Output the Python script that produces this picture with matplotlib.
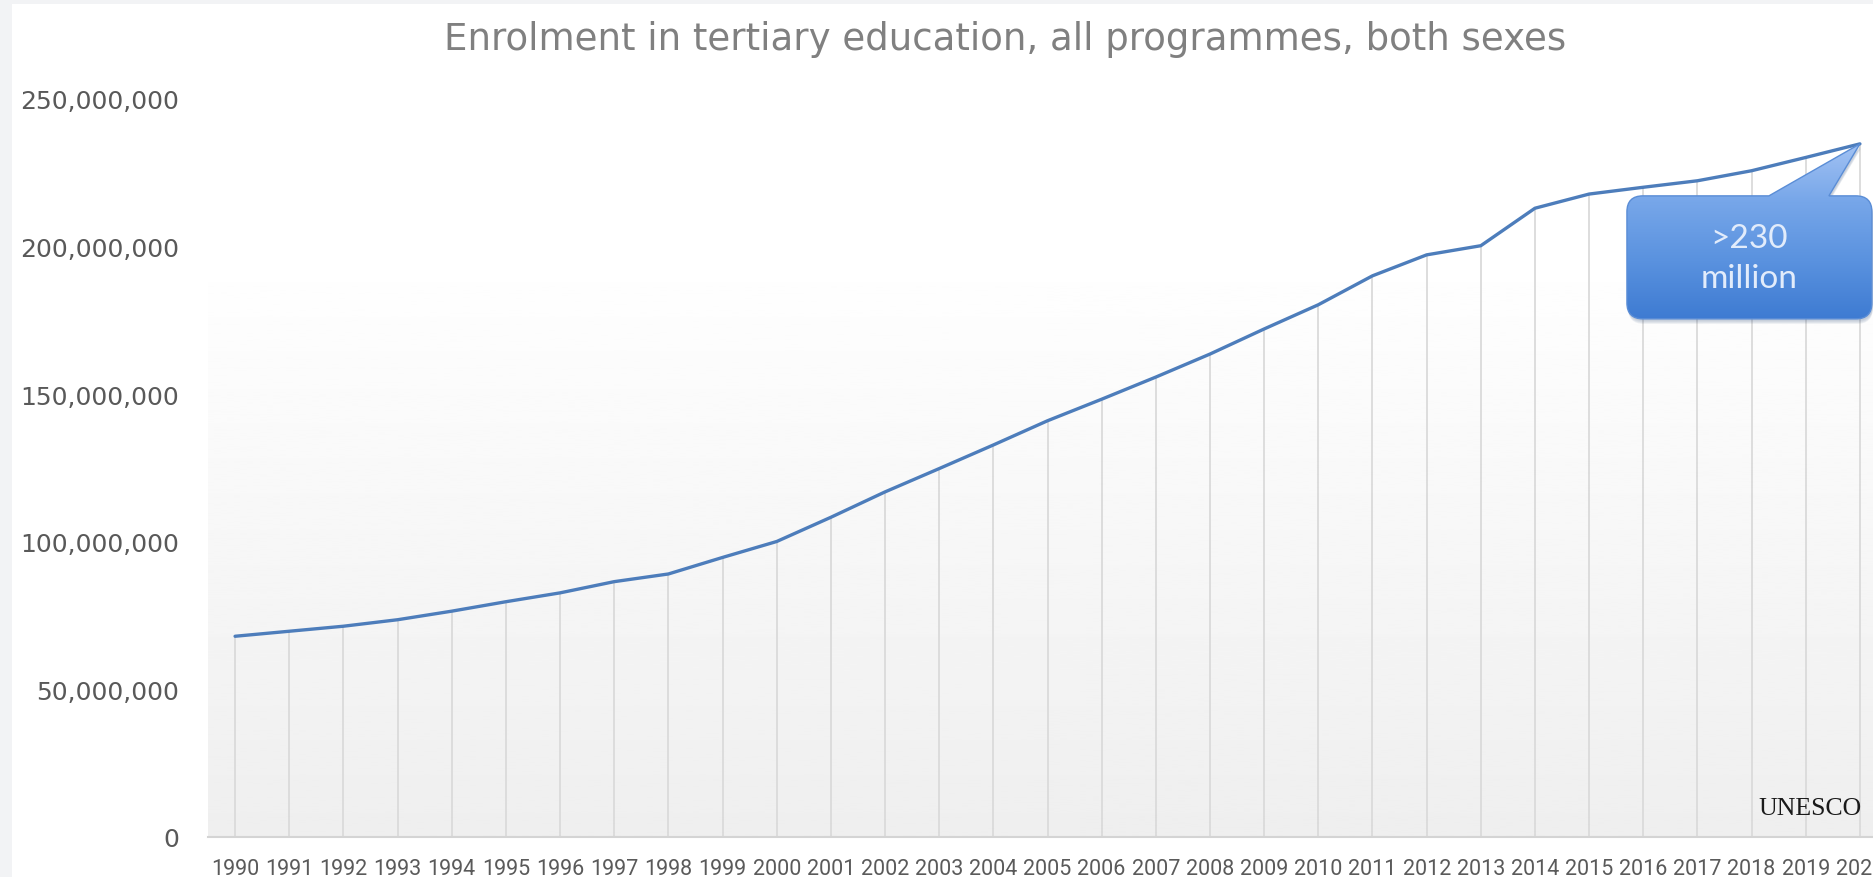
import matplotlib.pyplot as plt
import matplotlib.patches as mpatches
import matplotlib.transforms as mtransforms
from matplotlib.colors import LinearSegmentedColormap
from matplotlib.path import Path
import numpy as np

# Tertiary enrolment, all programmes, both sexes (millions of students)
years = list(range(1990, 2021))
enrolment_m = [68.0, 69.7, 71.4, 73.6, 76.5, 79.7, 82.7, 86.5, 89.1, 94.7,
               100.1, 108.3, 116.9, 124.8, 132.8, 141.0, 148.3, 155.8, 163.6, 172.1,
               180.3, 190.1, 197.2, 200.3, 213.0, 217.8, 220.1, 222.3, 225.7, 230.2, 234.8]
y_ticks = [0, 50_000_000, 100_000_000, 150_000_000, 200_000_000, 250_000_000]
year_labels = [str(y) for y in years]

title = "Enrolment in tertiary education, all programmes, both sexes"
callout_lines = [">230", "million"]
source = "UNESCO"

enrolment = [v * 1e6 for v in enrolment_m]

W, H = 1874, 878
fig = plt.figure(figsize=(W / 100, H / 100), dpi=100)
fig.patch.set_facecolor('white')

# plot area runs past the right edge, like the cropped original
ax = fig.add_axes([208 / W, 40 / H, (1887 - 208) / W, (838 - 100) / H])
ax.set_xlim(1989.5, 2020.5)
ax.set_ylim(0, 250e6)

# soft white-to-grey background
t = np.linspace(0, 1, 256)
shade = np.clip(0.935 + 0.065 * t / 0.8, 0, 1).reshape(-1, 1)
ax.imshow(shade, cmap='gray', vmin=0, vmax=1, origin='lower', aspect='auto',
          extent=[1989.5, 2020.5, 0, 250e6], zorder=0)

# drop lines and the series
ax.vlines(years, 0, enrolment, color='#dadada', lw=1.3, zorder=1)
ax.plot(years, enrolment, color='#4d7dbb', lw=2.4, zorder=3,
        solid_joinstyle='round', solid_capstyle='round')

for side in ['top', 'right', 'left']:
    ax.spines[side].set_visible(False)
ax.spines['bottom'].set_color('#d4d4d4')
ax.spines['bottom'].set_linewidth(1.5)

ax.set_xticks(years)
ax.set_xticklabels(year_labels, family='Roboto', fontsize=15.5, color='#5a5a5a')
ax.set_yticks(y_ticks)
ax.set_yticklabels([f'{v:,.0f}' for v in y_ticks], family='DejaVu Sans',
                   fontsize=18, color='#595959')
ax.tick_params(axis='x', length=0, pad=15)
ax.tick_params(axis='y', length=0, pad=21)

# callout pointing at the last point, geometry in pixels from the tip
to_tip = mtransforms.ScaledTranslation(years[-1], enrolment[-1], ax.transData)
left, right, top, bottom, r = -233, 12, -52, -175, 16
tail_l, tail_r = -91, -31
verts = [(tail_r, top), (0, 0), (tail_l, top),
         (left + r, top), (left, top), (left, top - r),
         (left, bottom + r), (left, bottom), (left + r, bottom),
         (right - r, bottom), (right, bottom), (right, bottom + r),
         (right, top - r), (right, top), (right - r, top),
         (tail_r, top), (tail_r, top)]
codes = [Path.MOVETO, Path.LINETO, Path.LINETO,
         Path.LINETO, Path.CURVE3, Path.CURVE3,
         Path.LINETO, Path.CURVE3, Path.CURVE3,
         Path.LINETO, Path.CURVE3, Path.CURVE3,
         Path.LINETO, Path.CURVE3, Path.CURVE3,
         Path.LINETO, Path.CLOSEPOLY]
bubble = Path(verts, codes)

# blurred shadow under the bubble
for k, a in enumerate([0.06, 0.06, 0.07, 0.08]):
    sh = mpatches.PathPatch(bubble, facecolor='#1f3f70', edgecolor='none', alpha=a,
                            transform=mtransforms.Affine2D().translate(1, -2 - k) + to_tip,
                            zorder=4)
    ax.add_patch(sh)

body = mpatches.PathPatch(bubble, facecolor='none', edgecolor='#5a8dd6', lw=1.0,
                          transform=to_tip, zorder=6)
ax.add_patch(body)

inv = ax.transData.inverted()
bx0, by0 = inv.transform(to_tip.transform((left, bottom)))
bx1, by1 = inv.transform(to_tip.transform((right, 0)))
blues = LinearSegmentedColormap.from_list(
    'bubble', ['#3e7bd2', '#5a92df', '#76a6e9', '#a2c2f3'])
fill = ax.imshow(np.linspace(0, 1, 256).reshape(-1, 1), cmap=blues, origin='lower',
                 aspect='auto', extent=[bx0, bx1, by0, by1], zorder=5)
fill.set_clip_path(body)

cx = (left + right) / 2
ax.text(cx, -94, callout_lines[0], transform=to_tip, ha='center', va='center',
        family='Lato', fontsize=24, color='#e2ecfb', zorder=7)
ax.text(cx, -134, callout_lines[1], transform=to_tip, ha='center', va='center',
        family='Lato', fontsize=24, color='#e2ecfb', zorder=7)

ax.set_xlim(1989.5, 2020.5)
ax.set_ylim(0, 250e6)

fig.text(1005 / W, 1 - 40 / H, title, ha='center', va='center',
         family='DejaVu Sans', fontsize=26.7, color='#808080')
fig.text(1810 / W, 1 - 809 / H, source, ha='center', va='center',
         family='Liberation Serif', fontsize=18.5, color='#1a1a1a')

# thin grey frame on the left and top edges
fig.patches.append(mpatches.Rectangle((0, 0), 12 / W, 1, transform=fig.transFigure,
                                      facecolor='#f2f3f5', edgecolor='none'))
fig.patches.append(mpatches.Rectangle((0, 1 - 5 / H), 1, 5 / H, transform=fig.transFigure,
                                      facecolor='#f2f3f5', edgecolor='none'))

fig.savefig('out.png', dpi=100)
